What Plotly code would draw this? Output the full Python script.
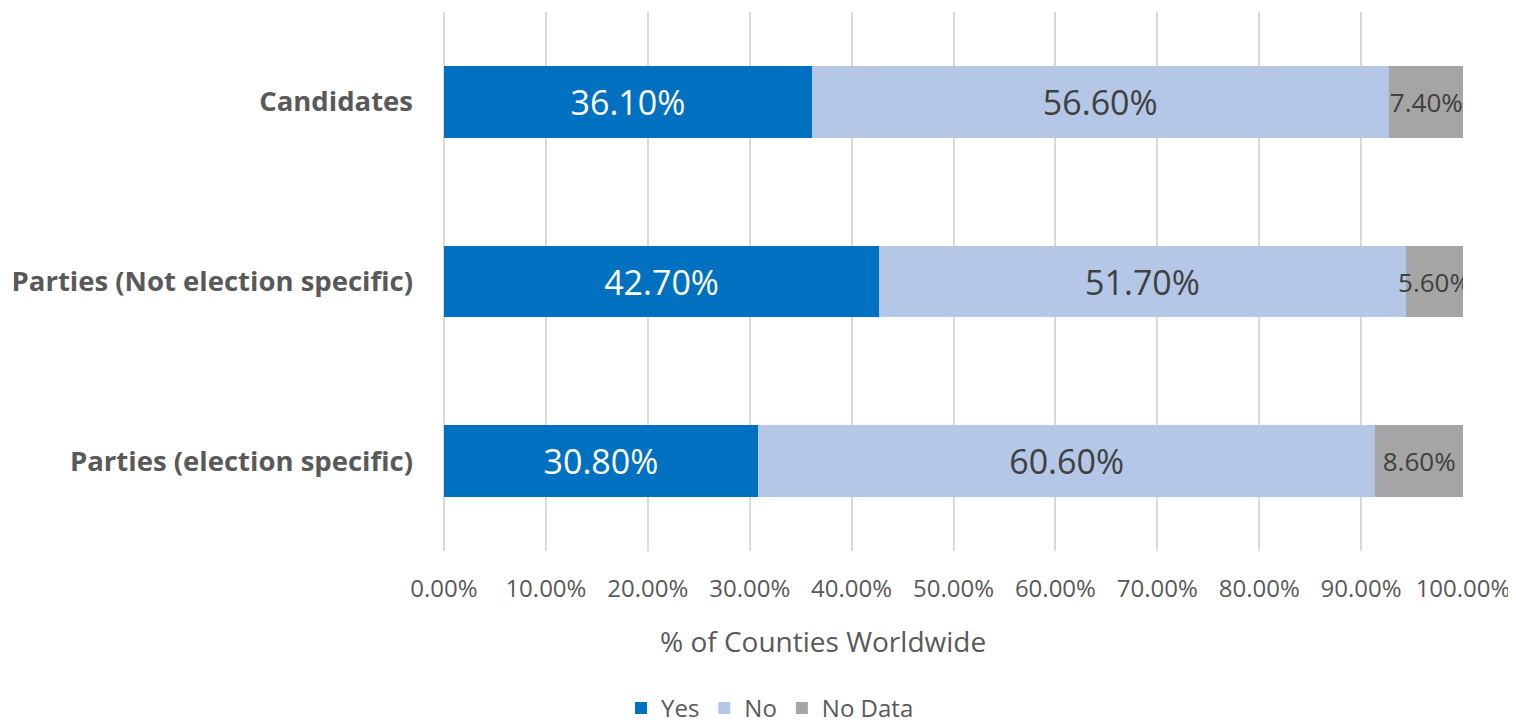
import plotly.graph_objects as go

categories = ["Candidates", "Parties (Not election specific)", "Parties (election specific)"]
yes_vals = [0.361, 0.427, 0.308]
no_vals = [0.566, 0.517, 0.606]
nodata_vals = [0.074, 0.056, 0.086]
series_names = ["Yes", "No", "No Data"]
colors = ["#0070C0", "#B4C7E7", "#A5A5A5"]
label_colors = ["#FFFFFF", "#404040", "#404040"]
label_sizes = [34, 34, 26]
tick_vals = [i / 10 for i in range(11)]
axis_title = "% of Counties Worldwide"

FONT = "Open Sans"

fig = go.Figure()
for name, vals, col, lc, ls in zip(series_names, [yes_vals, no_vals, nodata_vals], colors, label_colors, label_sizes):
    fig.add_trace(go.Bar(
        y=categories, x=vals, name=name, orientation="h",
        marker=dict(color=col, line=dict(width=0)),
        texttemplate="%{x:.2%}", textposition="inside", insidetextanchor="middle",
        constraintext="none", textangle=0,
        textfont=dict(family=FONT, size=ls, color=lc),
        hoverinfo="skip",
    ))

fig.add_annotation(
    text=axis_title, xref="paper", yref="paper", x=0.372, y=-0.167,
    xanchor="center", yanchor="middle", showarrow=False,
    font=dict(family=FONT, size=28, color="#595959"),
)

fig.update_layout(
    barmode="stack",
    bargap=0.6,
    width=1508, height=717,
    margin=dict(l=436, r=53, t=4, b=174, autoexpand=False),
    plot_bgcolor="white", paper_bgcolor="white",
    font=dict(family=FONT, color="#595959"),
    showlegend=True,
    legend=dict(
        orientation="h", xref="container", yref="paper",
        x=0.5053, xanchor="center", y=-0.292, yanchor="middle",
        font=dict(family=FONT, size=24, color="#595959"),
        traceorder="normal",
    ),
    xaxis=dict(
        range=[0, 1.0], tickvals=tick_vals, tickformat=".2%",
        showgrid=True, gridcolor="#D9D9D9", gridwidth=2,
        zeroline=True, zerolinecolor="#D9D9D9", zerolinewidth=2,
        showline=False, ticks="", automargin=False,
        tickfont=dict(family=FONT, size=24, color="#595959"),
        ticklabelstandoff=21,
        fixedrange=True,
    ),
    yaxis=dict(
        range=[2.5, -0.5], showgrid=False, zeroline=False, showline=False, ticks="",
        automargin=False,
        tickfont=dict(family=FONT, size=27.5, color="#595959", weight="bold"),
        ticklabelstandoff=30,
        fixedrange=True,
    ),
)

fig.write_html("out.html")
